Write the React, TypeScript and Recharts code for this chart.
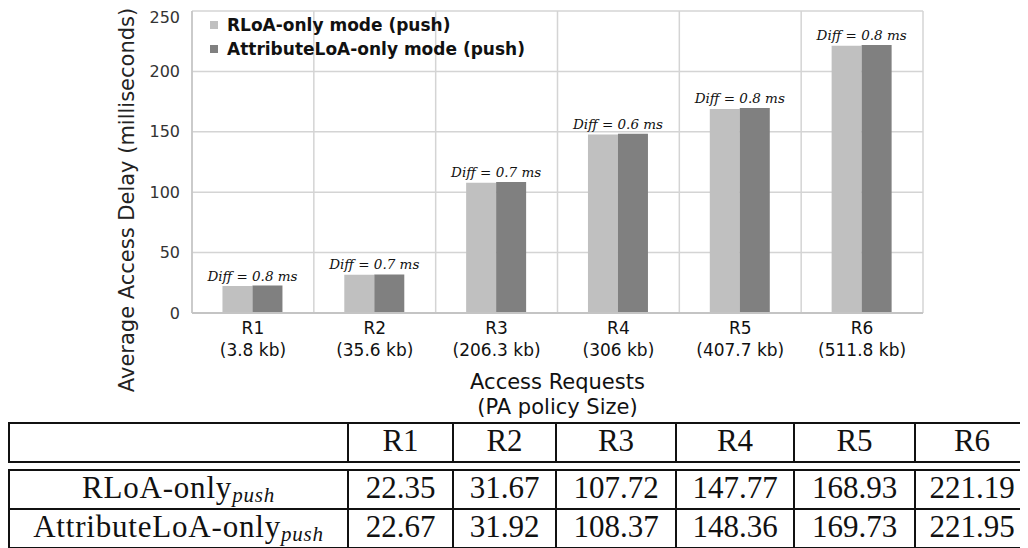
import React from 'react';
import {
  BarChart,
  Bar,
  XAxis,
  YAxis,
  CartesianGrid,
  LabelList,
  Label,
} from 'recharts';

const categories = ['R1', 'R2', 'R3', 'R4', 'R5', 'R6'];
const policySizes = ['3.8 kb', '35.6 kb', '206.3 kb', '306 kb', '407.7 kb', '511.8 kb'];
const rloaPush = [22.35, 31.67, 107.72, 147.77, 168.93, 221.19];
const attributePush = [22.67, 31.92, 108.37, 148.36, 169.73, 221.95];
const diffLabels = ['0.8', '0.7', '0.7', '0.6', '0.8', '0.8'];
const yTicks = [0, 50, 100, 150, 200, 250];

const seriesNames = ['RLoA-only mode (push)', 'AttributeLoA-only mode (push)'];
const rowLabels = ['RLoA-only', 'AttributeLoA-only'];

const LIGHT = '#c0c0c0';
const DARK = '#808080';
const SANS = '"DejaVu Sans", Verdana, sans-serif';
const SERIF = '"Liberation Serif", "Times New Roman", serif';

const colWidths = [339, 105, 103, 120, 118, 121, 114];

function XTick(props: any) {
  const { x, y, payload } = props;
  const i = categories.indexOf(payload.value);
  return (
    <text x={x} y={y} textAnchor="middle" fontFamily={SANS} fontSize={17} fill="#111">
      <tspan x={x} dy={21}>{payload.value}</tspan>
      <tspan x={x} dy={22}>({policySizes[i]})</tspan>
    </text>
  );
}

function DiffLabel(props: any) {
  const { x, y, index } = props;
  return (
    <text
      x={x}
      y={y - 5}
      textAnchor="middle"
      fontFamily='"DejaVu Serif", serif'
      fontStyle="italic"
      fontSize={13.5}
      fill="#111"
    >
      Diff = {diffLabels[index]} ms
    </text>
  );
}

// legend sits inside the plot, drawn as plain html over the chart
function LegendBox() {
  return (
    <div
      style={{
        position: 'absolute',
        left: 202,
        top: 5,
        fontFamily: SANS,
        fontSize: 17,
        fontWeight: 'bold',
        color: '#111',
      }}
    >
      {seriesNames.map((name, i) => (
        <div key={name} style={{ display: 'flex', alignItems: 'center', height: 24 }}>
          <span
            style={{
              display: 'inline-block',
              width: 8,
              height: 8,
              background: i === 0 ? LIGHT : DARK,
              marginRight: 9,
            }}
          />
          {name}
        </div>
      ))}
    </div>
  );
}

const cell: React.CSSProperties = {
  border: '2px solid #111',
  textAlign: 'center',
  verticalAlign: 'middle',
  padding: '0 0 3px 0',
  fontFamily: SERIF,
  fontSize: 31,
  lineHeight: '30px',
  height: 34,
  color: '#111',
};

export default function App() {
  const chartData = categories.map((c, i) => ({
    name: c,
    rloa: rloaPush[i],
    attr: attributePush[i],
  }));

  return (
    <div style={{ position: 'relative', width: 1020, height: 540 }}>
      <BarChart
        width={1020}
        height={414}
        data={chartData}
        margin={{ top: 3, right: 105, left: 0, bottom: 0 }}
        barCategoryGap="25%"
        barGap={0}
      >
        <CartesianGrid
          stroke="#d4d4d4"
          strokeWidth={1.5}
          verticalCoordinatesGenerator={({ offset }: any) =>
            Array.from(
              { length: categories.length + 1 },
              (_, i) => offset.left + (i * offset.width) / categories.length
            )
          }
        />
        <XAxis
          dataKey="name"
          height={109}
          tick={<XTick />}
          tickLine={false}
          tickSize={0}
          tickMargin={0}
          interval={0}
          axisLine={{ stroke: '#c4c4c4', strokeWidth: 2 }}
        >
          <Label
            content={({ viewBox }: any) => {
              const cx = viewBox.x + viewBox.width / 2;
              return (
                <text textAnchor="middle" fontFamily={SANS} fontSize={21} fill="#111">
                  <tspan x={cx} y={381}>Access Requests</tspan>
                  <tspan x={cx} y={406}>(PA policy Size)</tspan>
                </text>
              );
            }}
          />
        </XAxis>
        <YAxis
          width={184}
          domain={[0, 250]}
          ticks={yTicks}
          tickLine={false}
          tickSize={6}
          tickMargin={6}
          axisLine={{ stroke: '#c4c4c4', strokeWidth: 1.5 }}
          tick={{ fontFamily: SANS, fontSize: 16, fill: '#333' }}
        >
          <Label
            content={() => (
              <text
                x={119}
                y={192}
                transform="rotate(-90, 119, 192)"
                textAnchor="middle"
                dy="0.35em"
                fontFamily={SANS}
                fontSize={21}
                fill="#222"
              >
                Average Access Delay (milliseconds)
              </text>
            )}
          />
        </YAxis>
        <Bar dataKey="rloa" name={seriesNames[0]} fill={LIGHT} isAnimationActive={false} />
        <Bar dataKey="attr" name={seriesNames[1]} fill={DARK} isAnimationActive={false}>
          <LabelList dataKey="attr" content={<DiffLabel />} />
        </Bar>
      </BarChart>
      <LegendBox />

      <div style={{ position: 'absolute', left: 0, top: 414, width: 1020 }}>
        <table style={{ borderCollapse: 'collapse', tableLayout: 'fixed', width: 1020 }}>
          <colgroup>
            {colWidths.map((w, i) => (
              <col key={i} style={{ width: w }} />
            ))}
          </colgroup>
          <tbody>
            <tr>
              <td style={cell} />
              {categories.map((c) => (
                <td key={c} style={cell}>{c}</td>
              ))}
            </tr>
          </tbody>
        </table>
        <table
          style={{ borderCollapse: 'collapse', tableLayout: 'fixed', width: 1020, marginTop: 6 }}
        >
          <colgroup>
            {colWidths.map((w, i) => (
              <col key={i} style={{ width: w }} />
            ))}
          </colgroup>
          <tbody>
            {[rloaPush, attributePush].map((vals, r) => (
              <tr key={r}>
                <td style={{ ...cell, letterSpacing: 0.8 }}>
                  {rowLabels[r]}
                  <sub
                    style={{
                      fontStyle: 'italic',
                      fontSize: 21,
                      lineHeight: 0,
                      verticalAlign: '-0.2em',
                    }}
                  >
                    push
                  </sub>
                </td>
                {vals.map((v, i) => (
                  <td key={i} style={cell}>{v.toFixed(2)}</td>
                ))}
              </tr>
            ))}
          </tbody>
        </table>
      </div>
    </div>
  );
}
